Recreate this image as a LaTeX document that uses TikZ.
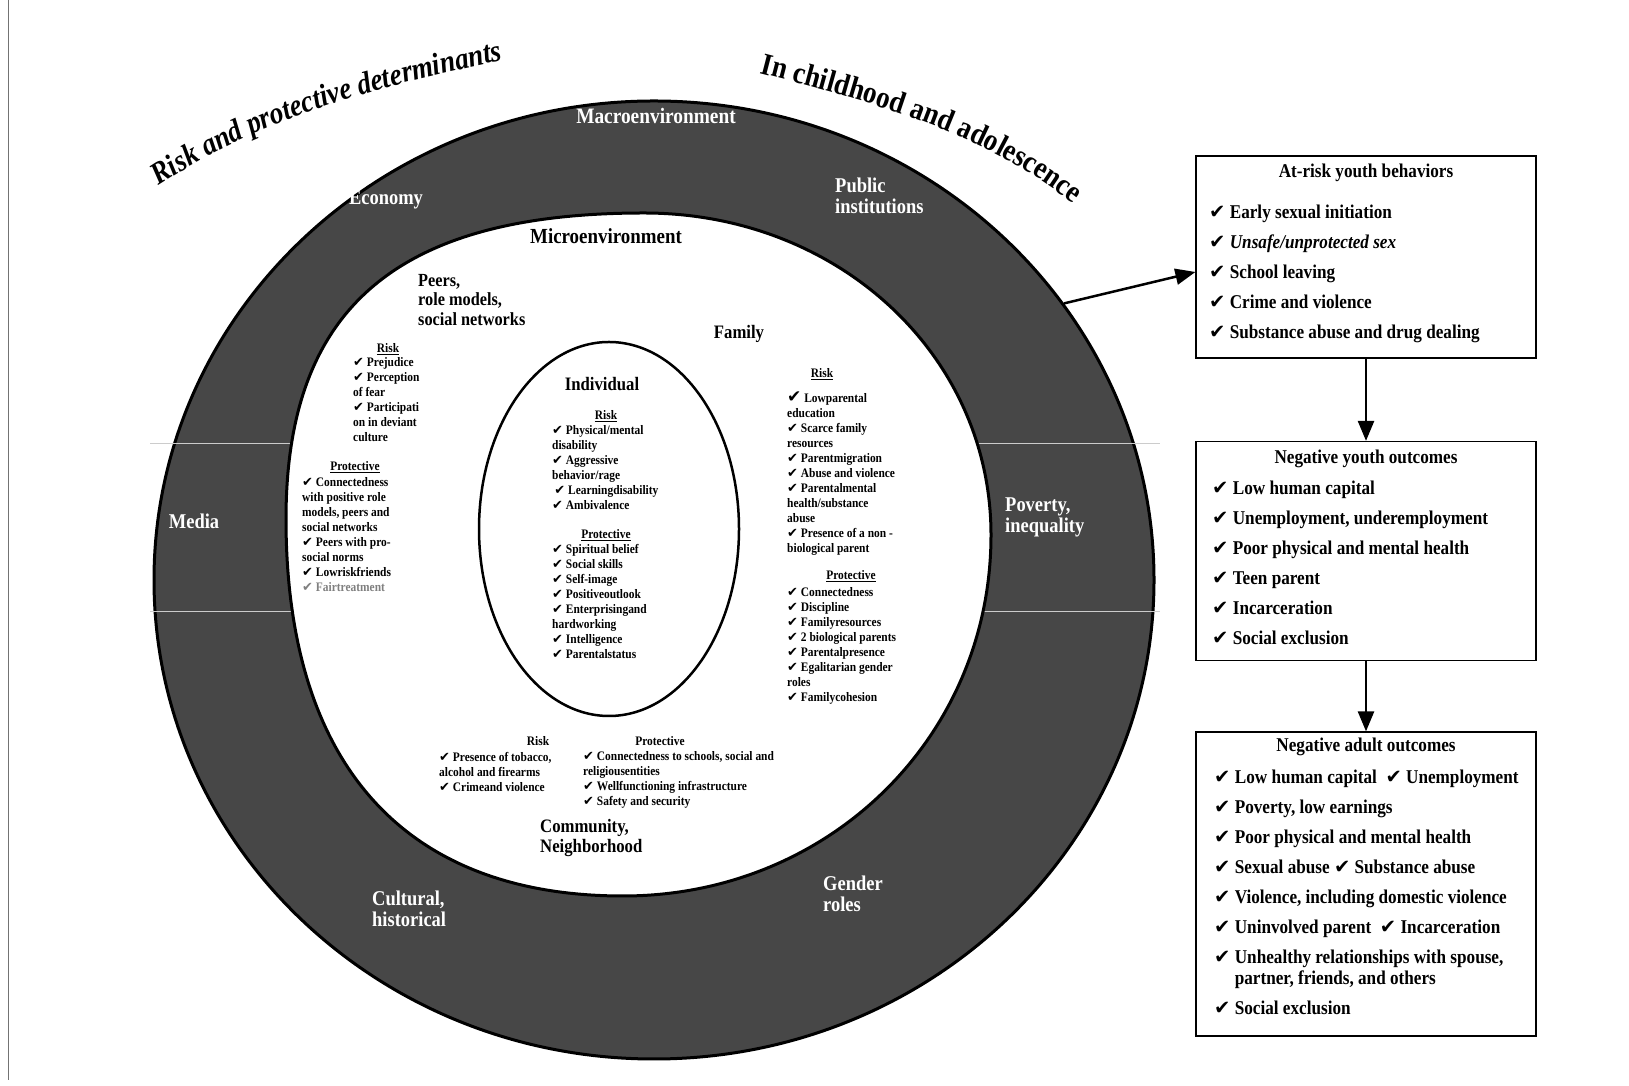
\documentclass[tikz,border=0pt]{standalone}
\usepackage{fontspec}
\setmainfont{Liberation Serif}[FakeStretch=0.88]
\newfontfamily\checkfont{DejaVu Sans}
\usepackage{tikz}
\usetikzlibrary{arrows.meta,shapes.geometric,decorations.text}

\newcommand{\ck}{{\checkfont ✔}}
\newcommand{\fs}[2]{\fontsize{#1}{#2}\selectfont}

\begin{document}
\begin{tikzpicture}[x=1pt, y=1pt,
    ringlabel/.style={text=white, align=left, inner sep=0, font=\fs{21}{21}\bfseries},
    smallhead/.style={inner sep=0, font=\fs{13}{15}\bfseries},
    smalllist/.style={anchor=north west, align=left, inner sep=0, font=\fs{13}{15}\bfseries},
    outbox/.style={draw, line width=1.2pt, minimum width=340, inner sep=0},
    boxtitle/.style={inner sep=0, font=\fs{19.5}{22}\bfseries},
    boxlist/.style={anchor=north west, align=left, inner sep=0, font=\fs{19.5}{30}\bfseries},
    flow/.style={-{Triangle[length=20pt,width=16pt]}, line width=2.5pt}]

  \useasboundingbox (0,0) rectangle (1629,1086);
  \draw [black!55, line width=1pt] (8,1086) -- (8,6);

  % the three levels
  \node [draw, ellipse, line width=3pt, fill=black!72, inner sep=0,
         minimum width=1000, minimum height=958] (macro) at (654,506) {};
  \draw [white!80!black, line width=1pt] (150,642) -- (1160,642);
  \draw [white!80!black, line width=1pt] (150,474) -- (1160,474);
  \draw [line width=3pt, fill=white] (286,567)
    .. controls (286,778) and (397,873) .. (644,873)
    .. controls (838,873) and (991,731) .. (991,551)
    .. controls (991,349) and (829,190) .. (623,190)
    .. controls (404,190) and (286,322) .. (286,567) -- cycle;
  \node [draw, ellipse, line width=2.5pt, inner sep=0,
         minimum width=260, minimum height=374] (indiv) at (609,557) {};

  % titles over the ring
  \path [decorate, decoration={text along path, text align=center,
         text={|\fs{31}{31}\bfseries\itshape|Risk and protective determinants}}]
    (115,869) .. controls (250,974) and (389,1002) .. (555,1037);
  \path [decorate, decoration={text along path, text align=center,
         text={|\fs{31}{31}\bfseries|In childhood and adolescence}}]
    (721,1023) .. controls (866,985) and (992,958) .. (1104,857);

  % macroenvironment
  \node [ringlabel, font=\fs{22}{22}\bfseries] (macro-name) at (656,970) {Macroenvironment};
  \node [ringlabel] (economy) at (386,886) {Economy};
  \node [ringlabel, anchor=west] (public) at (835,890) {Public\\institutions};
  \node [ringlabel] (media) at (194,565) {Media};
  \node [ringlabel, anchor=west] (poverty) at (1005,569) {Poverty,\\inequality};
  \node [ringlabel, anchor=west] (cultural) at (372,177) {Cultural,\\historical};
  \node [ringlabel, anchor=west] (gender) at (823,192) {Gender\\roles};

  % microenvironment
  \node [inner sep=0, font=\fs{21.5}{22}\bfseries] (micro-name) at (606,850) {Microenvironment};
  \node [anchor=north west, align=left, inner sep=0, font=\fs{18.5}{19.5}\bfseries] (peers)
    at (418,812) {Peers,\\role models,\\social networks};
  \node [inner sep=0, font=\fs{19}{19}\bfseries] (family) at (739,752) {Family};

  \node [smallhead] (peers-risk-head) at (388,737) {\underline{Risk}};
  \node [smalllist] (peers-risk) at (353,729) {\ck\ Prejudice\\ \ck\ Perception\\ of fear\\
    \ck\ Participati\\ on in deviant\\ culture};
  \node [smallhead] (peers-prot-head) at (355,619) {\underline{Protective}};
  \node [smalllist] (peers-prot) at (302,609) {\ck\ Connectedness\\ with positive role\\
    models, peers and\\ social networks\\ \ck\ Peers with pro-\\ social norms\\
    \ck\ Lowriskfriends\\ \textcolor{black!50}{\ck\ Fairtreatment}};

  \node [smallhead] (fam-risk-head) at (822,712) {\underline{Risk}};
  \node [smalllist] (fam-risk) at (787,694) {{\fs{17}{15}\ck}\ Lowparental\\ education\\
    \ck\ Scarce family\\ resources\\ \ck\ Parentmigration\\ \ck\ Abuse and violence\\
    \ck\ Parentalmental\\ health/substance\\ abuse\\ \ck\ Presence of a non -\\
    biological parent};
  \node [smallhead] (fam-prot-head) at (851,510) {\underline{Protective}};
  \node [smalllist] (fam-prot) at (787,499) {\ck\ Connectedness\\ \ck\ Discipline\\
    \ck\ Familyresources\\ \ck\ 2 biological parents\\ \ck\ Parentalpresence\\
    \ck\ Egalitarian gender\\ roles\\ \ck\ Familycohesion};

  \node [smallhead] (com-risk-head) at (538,345) {Risk};
  \node [smalllist] (com-risk) at (439,334) {\ck\ Presence of tobacco,\\
    alcohol and firearms\\ \ck\ Crimeand violence};
  \node [smallhead] (com-prot-head) at (660,345) {Protective};
  \node [smalllist] (com-prot) at (583,335) {\ck\ Connectedness to schools, social and\\
    religiousentities\\ \ck\ Wellfunctioning infrastructure\\ \ck\ Safety and security};
  \node [anchor=west, align=left, inner sep=0, font=\fs{19}{19.5}\bfseries] (community)
    at (540,248) {Community,\\Neighborhood};

  % individual
  \node [inner sep=0, font=\fs{19}{19}\bfseries] (indiv-name) at (602,702) {Individual};
  \node [smallhead] (ind-risk-head) at (606,670) {\underline{Risk}};
  \node [smalllist] (ind-risk) at (552,661) {\ck\ Physical/mental\\ disability\\
    \ck\ Aggressive\\ behavior/rage\\ \,\ck\ Learningdisability\\ \ck\ Ambivalence};
  \node [smallhead] (ind-prot-head) at (606,551) {\underline{Protective}};
  \node [smalllist] (ind-prot) at (552,542) {\ck\ Spiritual belief\\ \ck\ Social skills\\
    \ck\ Self-image\\ \ck\ Positiveoutlook\\ \ck\ Enterprisingand\\ hardworking\\
    \ck\ Intelligence\\ \ck\ Parentalstatus};

  % outcomes
  \node [outbox, minimum height=202] (atrisk) at (1366,829) {};
  \node [boxtitle] (atrisk-title) at (1366,913) {At-risk youth behaviors};
  \node [boxlist] (atrisk-list) at (1209,881) {\ck\ Early sexual initiation\\
    \ck\ \textit{Unsafe/unprotected sex}\\ \ck\ School leaving\\ \ck\ Crime and violence\\
    \ck\ Substance abuse and drug dealing};

  \node [outbox, minimum height=219] (youth) at (1366,535) {};
  \node [boxtitle] (youth-title) at (1366,627) {Negative youth outcomes};
  \node [boxlist] (youth-list) at (1212,605) {\ck\ Low human capital\\
    \ck\ Unemployment, underemployment\\ \ck\ Poor physical and mental health\\
    \ck\ Teen parent\\ \ck\ Incarceration\\ \ck\ Social exclusion};

  \node [outbox, minimum height=304] (adult) at (1366,202) {};
  \node [boxtitle] (adult-title) at (1366,339) {Negative adult outcomes};
  \node [boxlist] (adult-list) at (1214,316) {\ck\ Low human capital\ \ \ck\ Unemployment\\
    \ck\ Poverty, low earnings\\ \ck\ Poor physical and mental health\\
    \ck\ Sexual abuse \ck\ Substance abuse\\ \ck\ Violence, including domestic violence\\
    \ck\ Uninvolved parent\ \ \ck\ Incarceration\\
    \ck\ Unhealthy relationships with spouse,\\[-9pt]
    \hphantom{\ck\ }partner, friends, and others\\ \ck\ Social exclusion};

  \draw [flow] (macro.34) -- ([yshift=-15pt]atrisk.west);
  \draw [flow] (atrisk.south) -- (youth.north);
  \draw [flow] (youth.south) -- (adult.north);
\end{tikzpicture}
\end{document}
